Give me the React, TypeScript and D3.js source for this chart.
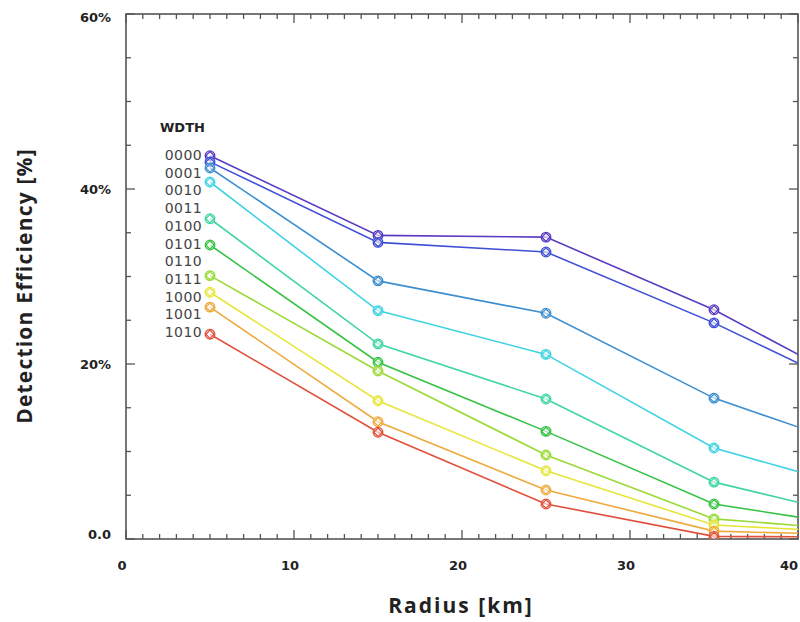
import React from 'react';
import * as d3 from 'd3';

// radius samples (km); the last one sits past the frame and gets clipped
const radius = [5, 15, 25, 35, 45];

// detection efficiency [%] per line, top to bottom
const eff0000 = [43.8, 34.7, 34.5, 26.2, 16.0];
const eff0001 = [43.1, 33.9, 32.8, 24.7, 15.5];
const eff0010 = [42.4, 29.5, 25.8, 16.1, 9.5];
const eff0011 = [40.8, 26.1, 21.1, 10.4, 5.0];
const eff0100 = [36.6, 22.3, 16.0, 6.5, 1.9];
const eff0101 = [33.6, 20.2, 12.3, 4.0, 1.0];
const eff0111 = [30.1, 19.2, 9.6, 2.3, 0.8];
const eff1000 = [28.2, 15.8, 7.8, 1.6, 0.6];
const eff1001 = [26.5, 13.4, 5.6, 0.9, 0.4];
const eff1010 = [23.4, 12.2, 4.0, 0.3, 0.2];

const lines = [eff0000, eff0001, eff0010, eff0011, eff0100, eff0101, eff0111, eff1000, eff1001, eff1010];
const lineColors = ['#5a3cc0', '#3f50d6', '#3d8fd0', '#3ed3e2', '#3fd6a0', '#36c244', '#9ada36', '#e6e63a', '#eeaa3c', '#e0503a'];

const legendCodes = ['0000', '0001', '0010', '0011', '0100', '0101', '0110', '0111', '1000', '1001', '1010'];

const xTicks = [0, 10, 20, 30, 40];
const yTicks = [0, 20, 40, 60];
const yTickLabels = ['0.0', '20%', '40%', '60%'];

const W = 800;
const H = 622;
const left = 126;
const right = 798;
const top = 14;
const bottom = 539;

const tickFont = 'DejaVu Sans, Verdana, sans-serif';
const titleFont = 'Open Sans, sans-serif';

export default function App() {
  const x = d3.scaleLinear().domain([0, 40]).range([left, right]);
  const y = d3.scaleLinear().domain([0, 60]).range([bottom, top]);
  const line = d3
    .line<number>()
    .x((d, i) => x(radius[i]))
    .y(d => y(d));

  const axisColor = '#555';
  const xMinor = d3.range(0, 41, 1);
  const yMinor = d3.range(0, 61, 5);

  return (
    <svg width={W} height={H} style={{ position: 'absolute', left: 0, top: 0, background: '#fff' }}>
      <defs>
        <clipPath id="plot">
          <rect x={left} y={top} width={right - left} height={bottom - top} />
        </clipPath>
      </defs>

      {/* frame */}
      <rect x={left} y={top} width={right - left} height={bottom - top} fill="none" stroke={axisColor} strokeWidth={1.6} />

      {xMinor.map(v => {
        const len = v % 10 === 0 ? 9 : 5;
        return (
          <g key={'xt' + v} stroke={axisColor} strokeWidth={1.3}>
            <line x1={x(v)} x2={x(v)} y1={bottom} y2={bottom - len} />
            <line x1={x(v)} x2={x(v)} y1={top} y2={top + len} />
          </g>
        );
      })}
      {yMinor.map(v => {
        const len = v % 20 === 0 ? 9 : 5;
        return (
          <g key={'yt' + v} stroke={axisColor} strokeWidth={1.3}>
            <line x1={left} x2={left + len} y1={y(v)} y2={y(v)} />
            <line x1={right} x2={right - len} y1={y(v)} y2={y(v)} />
          </g>
        );
      })}

      {xTicks.map(v => (
        <text key={'xl' + v} x={Math.min(x(v) - 4, W - 11)} y={bottom + 31} textAnchor="middle" fontFamily={tickFont} fontWeight="bold" fontSize={13} fill="#222">
          {v}
        </text>
      ))}
      {yTicks.map((v, i) => (
        <text key={'yl' + v} x={111} y={y(v) + (v === 0 ? 0 : v === 60 ? 8 : 5)} textAnchor="end" fontFamily={tickFont} fontWeight="bold" fontSize={13} fill="#222">
          {yTickLabels[i]}
        </text>
      ))}

      <text x={461} y={613} textAnchor="middle" fontFamily={titleFont} fontWeight="bold" fontSize={21} letterSpacing={2} fill="#222">
        Radius [km]
      </text>
      <text transform="translate(32,286) rotate(-90)" textAnchor="middle" fontFamily={titleFont} fontWeight="bold" fontSize={21} letterSpacing={1.2} fill="#222">
        Detection Efficiency [%]
      </text>

      {/* legend */}
      <text x={160} y={132} fontFamily={tickFont} fontWeight="bold" fontSize={13} fill="#222">
        WDTH
      </text>
      {legendCodes.map((c, i) => (
        <text key={c} x={202} y={160 + i * 17.7} textAnchor="end" fontFamily={tickFont} fontSize={14} letterSpacing={0.4} fill="#444">
          {c}
        </text>
      ))}

      <g clipPath="url(#plot)">
        {lines.map((vals, k) => (
          <g key={'s' + k} stroke={lineColors[k]} fill="none" strokeWidth={1.6}>
            <path d={line(vals) || ''} />
            {vals.map((v, i) => {
              const cx = x(radius[i]);
              const cy = y(v);
              return (
                <g key={i} strokeWidth={1.3}>
                  <circle cx={cx} cy={cy} r={4.8} fill="#fff" fillOpacity={0.6} />
                  <path d={`M${cx},${cy - 4.2}L${cx + 4.2},${cy}L${cx},${cy + 4.2}L${cx - 4.2},${cy}Z`} />
                </g>
              );
            })}
          </g>
        ))}
      </g>
    </svg>
  );
}
